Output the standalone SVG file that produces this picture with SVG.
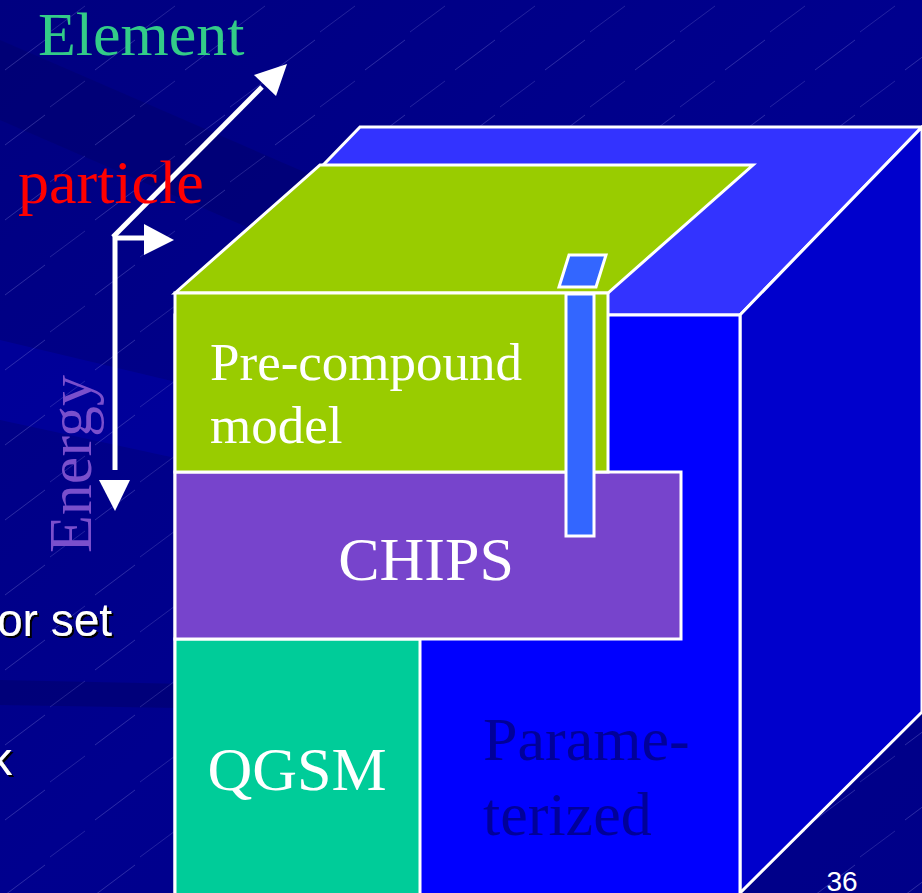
<svg xmlns="http://www.w3.org/2000/svg" width="922" height="893" viewBox="0 0 922 893">
<defs>
<linearGradient id="bg" x1="0" y1="0" x2="1" y2="1">
<stop offset="0" stop-color="#000080"/>
<stop offset="0.5" stop-color="#00008E"/>
<stop offset="1" stop-color="#000088"/>
</linearGradient>
<pattern id="hatch" width="90" height="75" patternUnits="userSpaceOnUse">
<line x1="5" y1="70" x2="45" y2="40" stroke="#8888DD" stroke-width="0.7" opacity="0.45"/>
<line x1="50" y1="32" x2="85" y2="6" stroke="#8888DD" stroke-width="0.7" opacity="0.35"/>
</pattern>
<filter id="shadow" x="-10%" y="-10%" width="130%" height="130%">
<feOffset in="SourceAlpha" dx="2" dy="2" result="o"/>
<feFlood flood-color="#000000"/>
<feComposite in2="o" operator="in" result="s"/>
<feMerge><feMergeNode in="s"/><feMergeNode in="SourceGraphic"/></feMerge>
</filter>
<style>
.edge{stroke:#FFFFFF;stroke-width:3;stroke-linejoin:miter}
.arrow{stroke:#FFFFFF;stroke-width:5;fill:none}
.head{fill:#FFFFFF}
.serif{font-family:"Liberation Serif","Times New Roman",serif}
.sans{font-family:"Liberation Sans",Arial,sans-serif}
</style>
</defs>
<rect width="922" height="893" fill="url(#bg)"/>
<polygon points="0,40 922,440 922,520 0,120" fill="#000070" opacity="0.6"/>
<polygon points="0,340 922,560 922,620 0,420" fill="#0000A8" opacity="0.55"/>
<polygon points="0,680 922,700 922,720 0,705" fill="#00006E" opacity="0.6"/>
<rect width="922" height="893" fill="url(#hatch)"/>

<g id="cube">
<polygon class="edge" points="360,127 922,127 740,315 178,315" fill="#3333FF"/>
<polygon class="edge" points="740,315 922,127 922,712 740,893" fill="#0000CC"/>
<rect class="edge" x="175" y="315" width="565" height="590" fill="#0000FF"/>
</g>

<g id="parameterized">
<text class="serif" x="483" y="760" font-size="62" fill="#000099">Parame-</text>
<text class="serif" x="483" y="835" font-size="62" fill="#000099">terized</text>
</g>

<g id="qgsm">
<rect class="edge" x="175" y="639" width="245" height="270" fill="#00CC99"/>
<text class="serif" x="297" y="790" font-size="62" fill="#FFFFFF" text-anchor="middle">QGSM</text>
</g>

<g id="chips">
<rect class="edge" x="175" y="472" width="506" height="167" fill="#7744CC"/>
<text class="serif" x="426" y="580" font-size="62" fill="#FFFFFF" text-anchor="middle">CHIPS</text>
</g>

<g id="precompound">
<polygon class="edge" points="175,293 320,165 753,165 608,293" fill="#99CC00"/>
<rect class="edge" x="175" y="293" width="433" height="179" fill="#99CC00"/>
<text class="serif" x="210" y="380" font-size="53" fill="#FFFFFF">Pre-compound</text>
<text class="serif" x="210" y="443" font-size="53" fill="#FFFFFF">model</text>
</g>

<g id="bar">
<polygon class="edge" points="569,255 606,255 596,287 559,287" fill="#3366FF"/>
<rect class="edge" x="566" y="294" width="28" height="242" fill="#3366FF"/>
</g>

<g id="connectors">
<polyline class="arrow" points="115,470 115,238 145,238"/>
<line class="arrow" x1="113" y1="237" x2="262" y2="87"/>
<polygon class="head" points="99,480 130,480 115,511"/>
<polygon class="head" points="144,224 144,255 174,240"/>
<polygon class="head" points="287,64 254,75 276,96"/>
</g>

<g id="labels">
<text class="serif" x="38" y="55" font-size="62" fill="#33CC88">Element</text>
<text class="serif" x="18" y="203" font-size="62" fill="#FF0000">particle</text>
<text class="serif" transform="translate(91,553) rotate(-90)" font-size="62" fill="#7A4FCC">Energy</text>
<g filter="url(#shadow)">
<text class="sans" x="112" y="636" font-size="46" fill="#FFFFFF" text-anchor="end">or set</text>
<text class="sans" x="12" y="775" font-size="46" fill="#FFFFFF" text-anchor="end">k</text>
</g>
<text class="sans" x="842" y="891" font-size="28" fill="#FFFFFF" text-anchor="middle">36</text>
</g>
</svg>
